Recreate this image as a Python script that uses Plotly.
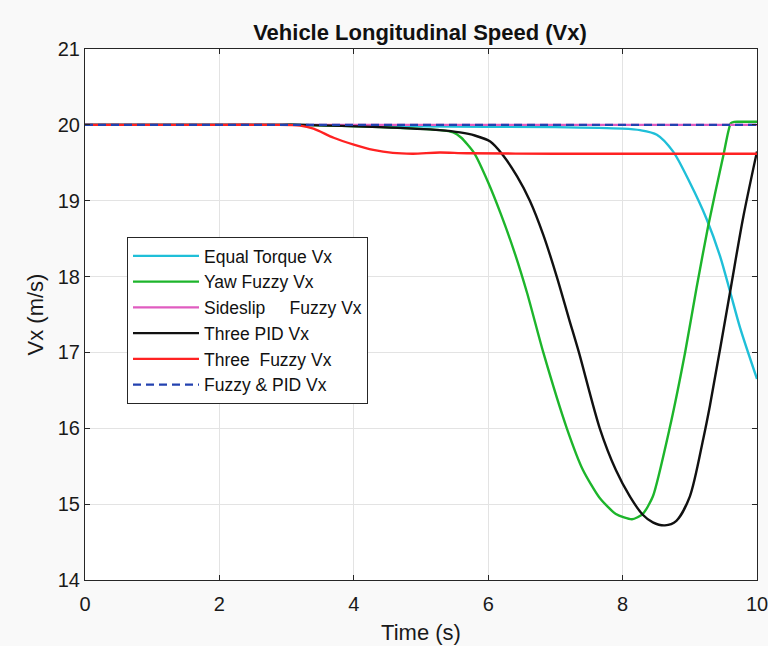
import plotly.graph_objects as go

# Equal Torque Vx
t_eq = [0, 1.5, 3.0, 3.3, 5.0, 7.0, 8.0, 8.26, 8.51, 8.75, 9.0, 9.25, 9.45, 9.6, 9.75, 10.0]
v_eq = [20.0, 20.0, 20.0, 20.0, 19.98, 19.97, 19.95, 19.93, 19.87, 19.65, 19.24, 18.76, 18.27, 17.8, 17.32, 16.65]

# Yaw Fuzzy Vx
t_yaw = [0, 1.5, 2.8, 3.2, 4.39, 5.28, 5.48, 5.6, 5.79, 6.0, 6.19, 6.38, 6.58, 6.82, 7.17, 7.41, 7.66,
         7.9, 8.14, 8.3, 8.45, 8.7, 8.93, 9.1, 9.27, 9.5, 9.61, 9.66, 9.8, 10.0]
v_yaw = [20.0, 20.0, 20.0, 20.0, 19.97, 19.93, 19.9, 19.83, 19.63, 19.24, 18.82, 18.35, 17.78, 17.0, 16.0, 15.45, 15.08,
         14.87, 14.8, 14.87, 15.1, 16.0, 17.0, 17.85, 18.65, 19.6, 20.02, 20.04, 20.04, 20.04]

# Sideslip Fuzzy Vx
t_side = [0, 10.0]
v_side = [20.0, 20.0]

# Three PID Vx
t_pid = [0, 1.5, 2.8, 3.2, 4.39, 5.28, 5.58, 5.8, 6.03, 6.22, 6.43, 6.62, 6.82, 7.02, 7.2, 7.35, 7.66,
         7.9, 8.11, 8.3, 8.45, 8.63, 8.8, 9.0, 9.2, 9.3, 9.6, 9.79, 10.0]
v_pid = [20.0, 20.0, 20.0, 20.0, 19.97, 19.93, 19.9, 19.86, 19.78, 19.6, 19.32, 19.0, 18.55, 18.0, 17.45, 17.0, 16.0,
         15.45, 15.1, 14.86, 14.76, 14.72, 14.78, 15.1, 15.86, 16.3, 17.8, 18.76, 19.65]

# Three Fuzzy Vx
t_tf = [0, 1.0, 2.0, 2.8, 3.2, 3.4, 3.7, 4.0, 4.29, 4.58, 4.88, 5.28, 5.68, 7.0, 8.5, 10.0]
v_tf = [20.0, 20.0, 20.0, 20.0, 19.99, 19.95, 19.83, 19.74, 19.67, 19.63, 19.62, 19.635, 19.625, 19.62, 19.62, 19.62]

# Fuzzy & PID Vx
t_fp = [0, 10.0]
v_fp = [20.0, 20.0]

x_ticks = [0, 2, 4, 6, 8, 10]
y_ticks = [14, 15, 16, 17, 18, 19, 20, 21]

FONT = "Liberation Sans, Arial, Helvetica, sans-serif"
SP = "\u00a0"

fig = go.Figure()
lw = 2.4
fig.add_trace(go.Scatter(x=t_eq, y=v_eq, mode="lines", name="Equal Torque Vx",
                         line=dict(color="#1fbfd8", width=lw, shape="spline", smoothing=0.8)))
fig.add_trace(go.Scatter(x=t_yaw, y=v_yaw, mode="lines", name="Yaw Fuzzy Vx",
                         line=dict(color="#1db52b", width=lw, shape="spline", smoothing=0.6)))
fig.add_trace(go.Scatter(x=t_side, y=v_side, mode="lines", name="Sideslip" + SP * 5 + "Fuzzy Vx",
                         line=dict(color="#e05cc0", width=lw)))
fig.add_trace(go.Scatter(x=t_pid, y=v_pid, mode="lines", name="Three PID Vx",
                         line=dict(color="#111111", width=lw, shape="spline", smoothing=0.8)))
fig.add_trace(go.Scatter(x=t_tf, y=v_tf, mode="lines", name="Three" + SP * 2 + "Fuzzy Vx",
                         line=dict(color="#ff2222", width=lw, shape="spline", smoothing=0.8)))
fig.add_trace(go.Scatter(x=t_fp, y=v_fp, mode="lines", name="Fuzzy & PID Vx",
                         line=dict(color="#2342b0", width=lw, dash="8px,5px")))

axis_common = dict(
    showline=True, linecolor="#262626", linewidth=1, mirror="ticks",
    ticks="inside", ticklen=5, tickcolor="#262626",
    showgrid=True, gridcolor="#e3e3e3", gridwidth=1,
    zeroline=False, automargin=False,
    tickfont=dict(family=FONT, size=20, color="#1a1a1a"),
)

fig.update_layout(
    width=768, height=646,
    margin=dict(l=85, r=11, t=49, b=66),
    paper_bgcolor="#f9f9f9", plot_bgcolor="#ffffff",
    title=dict(text="<b>Vehicle Longitudinal Speed (Vx)</b>", x=420 / 768, xanchor="center",
               y=1 - 32 / 646, yanchor="middle",
               font=dict(family=FONT, size=22, color="#111111")),
    xaxis=dict(range=[0, 10], tickvals=x_ticks, ticktext=[str(v) for v in x_ticks],
               ticklabelstandoff=6, ticklabeloverflow="allow",
               title=dict(text="Time (s)", font=dict(family=FONT, size=22, color="#1a1a1a"), standoff=10),
               **axis_common),
    yaxis=dict(range=[14, 21], tickvals=y_ticks, ticktext=[str(v) for v in y_ticks],
               title=dict(text="Vx (m/s)", font=dict(family=FONT, size=22, color="#1a1a1a"), standoff=8),
               **axis_common),
    legend=dict(x=0.0625, y=0.646, xanchor="left", yanchor="top",
                bgcolor="#ffffff", bordercolor="#262626", borderwidth=1,
                font=dict(family=FONT, size=17.5, color="#111111"),
                tracegroupgap=0, itemwidth=66),
    showlegend=True,
)

fig.write_html("out.html", config={"displayModeBar": False},
               post_script="document.body.style.margin='0';")
